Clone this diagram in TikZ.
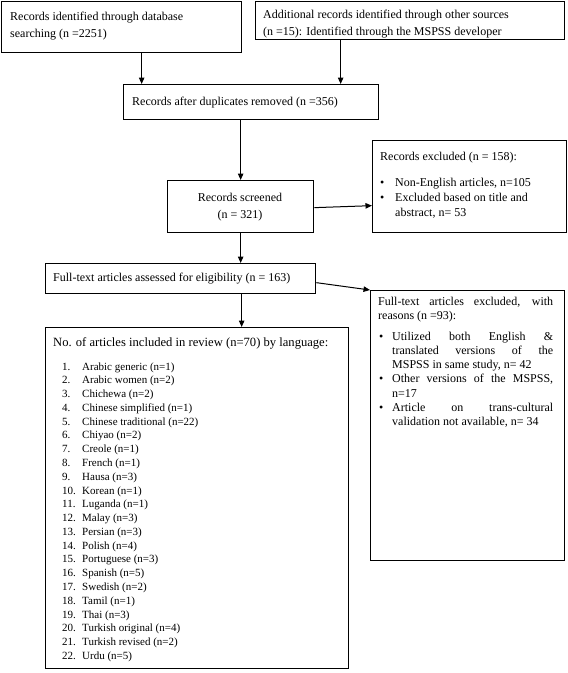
\documentclass[tikz,border=0pt]{standalone}
\usepackage{fontspec}
\setmainfont{Liberation Serif}
\usetikzlibrary{arrows.meta}
\begin{document}
\begin{tikzpicture}[x=1pt,y=-1pt,
  box/.style={draw, line width=1.3pt, inner sep=0pt, anchor=north west},
  txt/.style={inner sep=0pt, anchor=base west, font=\fontsize{12}{14}\selectfont},
  txtc/.style={inner sep=0pt, anchor=base, font=\fontsize{12}{14}\selectfont},
  hdr/.style={inner sep=0pt, anchor=base west, font=\fontsize{12.6}{14}\selectfont},
  lst/.style={inner sep=0pt, anchor=base west, font=\fontsize{11}{13}\selectfont},
  arr/.style={line width=1pt, -{Triangle[length=6.5pt,width=5.5pt]}}]
\useasboundingbox (0,0) rectangle (568,673);
% boxes
\node[box, minimum width=240pt, minimum height=51pt] (db) at (1,1) {};
\node[box, minimum width=309pt, minimum height=38pt] (other) at (255,1) {};
\node[box, minimum width=255pt, minimum height=35pt] (dup) at (123,84) {};
\node[box, minimum width=146pt, minimum height=52pt] (screen) at (167,180) {};
\node[box, minimum width=194pt, minimum height=92pt] (excl) at (372,140) {};
\node[box, minimum width=270pt, minimum height=30pt] (full) at (45,263) {};
\node[box, minimum width=303pt, minimum height=341pt] (incl) at (45,327) {};
\node[box, minimum width=194pt, minimum height=270pt] (fexcl) at (370,290) {};
% connectors
\draw[arr] ([xshift=20pt]db.south) -- ([xshift=20pt]db.south |- dup.north);
\draw[arr] ([xshift=-69.5pt]other.south) -- ([xshift=-69.5pt]other.south |- dup.north);
\draw[arr] (screen.north |- dup.south) -- (screen.north);
\draw[arr] ([yshift=-1pt]screen.east) -- ([yshift=-19pt]excl.west);
\draw[arr] (screen.south) -- (screen.south |- full.north);
\draw[arr] ([xshift=61pt]full.south) -- ([xshift=61pt]full.south |- incl.north);
\draw[arr] ([yshift=-4pt]full.east) -- (fexcl.north west);
% texts
\node[txt] (db1) at (10,20.5) {Records identified through database};
\node[txt] (db2) at (10,37) {searching (n =2251)};
\node[txt] (ot1) at (263,18.5) {Additional records identified through other sources};
\node[txt] (ot2) at (263,35) {(n =15): Identified through the MSPSS developer};
\node[txt] (du1) at (132,105.5) {Records after duplicates removed (n =356)};
\node[txtc] (sc1) at (240,201.5) {Records screened};
\node[txtc] (sc2) at (240,218.5) {(n = 321)};
\node[txt] (ex0) at (380,160.5) {Records excluded (n = 158):};
\node[txt] (exb1) at (380,186) {\textbullet};
\node[txt] (exb2) at (380,201) {\textbullet};
\node[txt] (ex1) at (395,186) {Non-English articles, n=105};
\node[txt] (ex2) at (395,201) {Excluded based on title and};
\node[txt] (ex3) at (395,216) {abstract, n= 53};
\node[txt] (fu1) at (53,281.5) {Full-text articles assessed for eligibility (n = 163)};
\node[hdr] (in0) at (53,346.5) {No. of articles included in review (n=70) by language:};
\foreach \i/\t in {1/Arabic generic (n=1), 2/Arabic women (n=2), 3/Chichewa (n=2),
  4/Chinese simplified (n=1), 5/Chinese traditional (n=22), 6/Chiyao (n=2),
  7/Creole (n=1), 8/French (n=1), 9/Hausa (n=3), 10/Korean (n=1), 11/Luganda (n=1),
  12/Malay (n=3), 13/Persian (n=3), 14/Polish (n=4), 15/Portuguese (n=3),
  16/Spanish (n=5), 17/Swedish (n=2), 18/Tamil (n=1), 19/Thai (n=3),
  20/Turkish original (n=4), 21/Turkish revised (n=2), 22/Urdu (n=5)} {
  \node[lst] (num\i) at (62,{370+13.78*(\i-1)}) {\i.};
  \node[lst] (item\i) at (82,{370+13.78*(\i-1)}) {\t};
}
\node[txt] (fx1) at (378,305) {\makebox[175pt][s]{Full-text articles excluded, with}};
\node[txt] (fx2) at (378,319.5) {reasons (n =93):};
\node[txt] (fxb1) at (379,340) {\textbullet};
\node[txt] (fxb2) at (379,382.9) {\textbullet};
\node[txt] (fxb3) at (379,411.5) {\textbullet};
\node[txt] (fx3) at (392,340) {\makebox[161pt][s]{Utilized both English \&}};
\node[txt] (fx4) at (392,354.3) {\makebox[161pt][s]{translated versions of the}};
\node[txt] (fx5) at (392,368.6) {MSPSS in same study, n= 42};
\node[txt] (fx6) at (392,382.9) {\makebox[161pt][s]{Other versions of the MSPSS,}};
\node[txt] (fx7) at (392,397.2) {n=17};
\node[txt] (fx8) at (392,411.5) {\makebox[161pt][s]{Article on trans-cultural}};
\node[txt] (fx9) at (392,425.8) {validation not available, n= 34};
\end{tikzpicture}
\end{document}
